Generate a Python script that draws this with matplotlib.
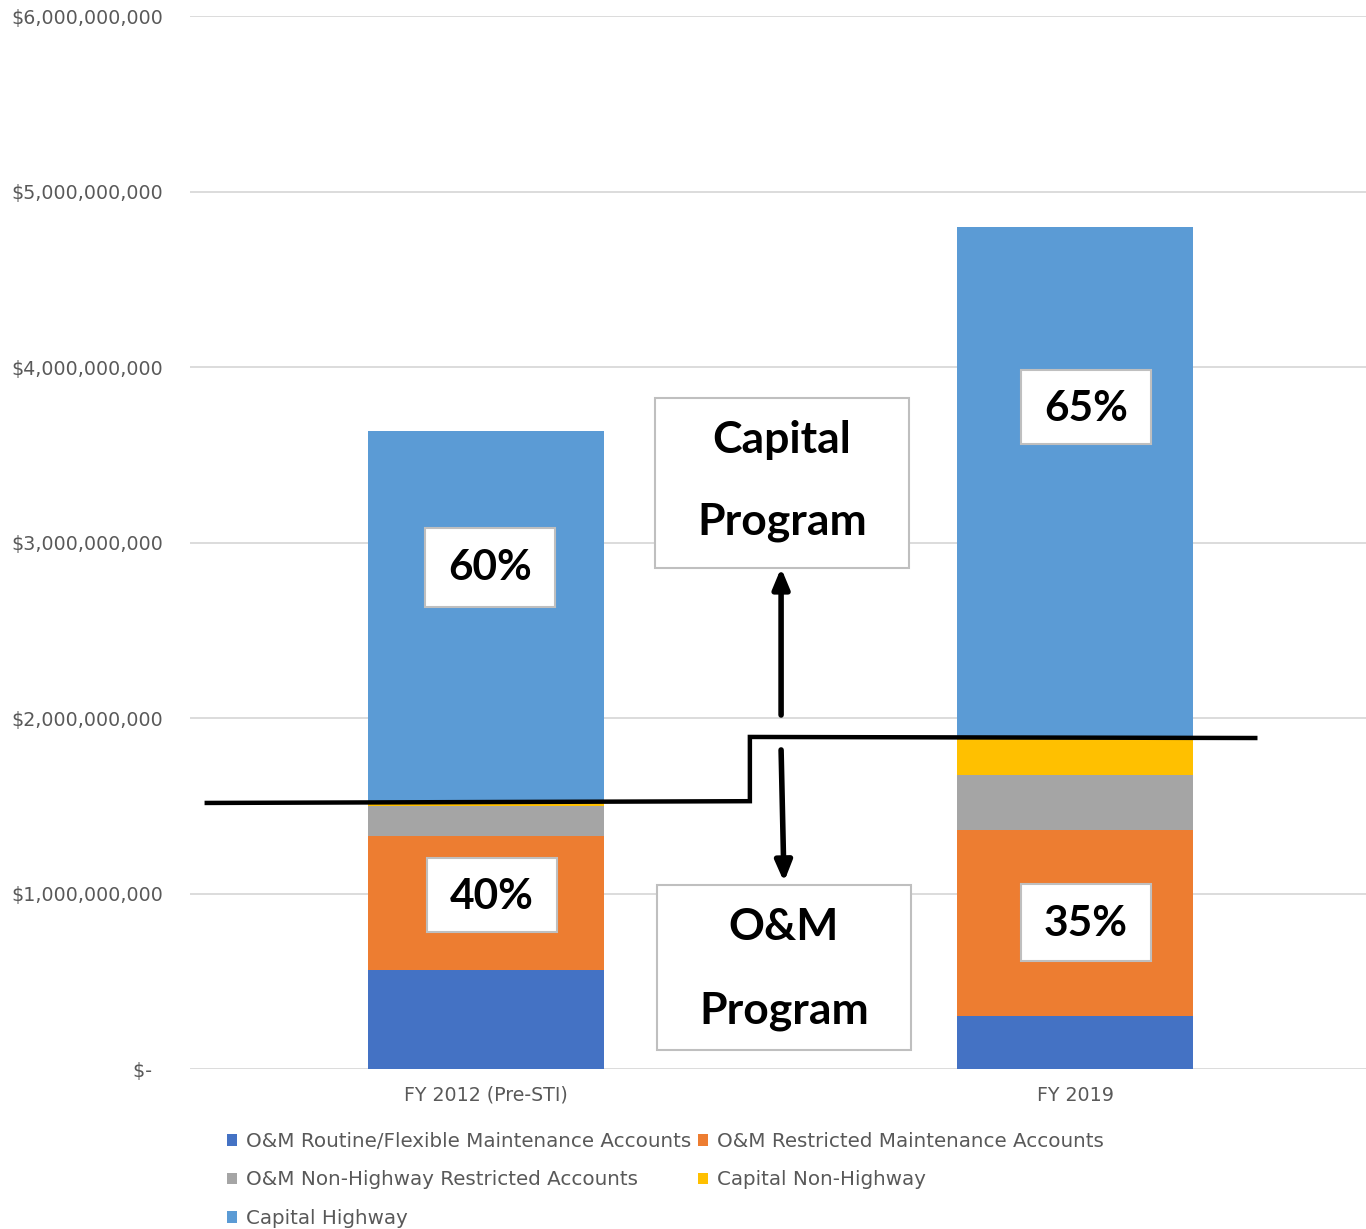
import matplotlib
matplotlib.use("Agg")
import matplotlib.pyplot as plt
from matplotlib.patches import Rectangle
import numpy as np

plt.rcParams['font.family'] = ['Lato', 'DejaVu Sans']

categories = ["FY 2012 (Pre-STI)", "FY 2019"]
series_names = ["O&M Routine/Flexible Maintenance Accounts",
                "O&M Restricted Maintenance Accounts",
                "O&M Non-Highway Restricted Accounts",
                "Capital Non-Highway",
                "Capital Highway"]
om_routine = [0.564e9, 0.302e9]
om_restricted = [0.764e9, 1.060e9]
om_nonhwy = [0.171e9, 0.313e9]
cap_nonhwy = [0.017e9, 0.217e9]
cap_hwy = [2.119e9, 2.906e9]
colors = ["#4472C4", "#ED7D31", "#A5A5A5", "#FFC000", "#5B9BD5"]
pct_labels_capital = ["60%", "65%"]
pct_labels_om = ["40%", "35%"]
yticks = [0, 1e9, 2e9, 3e9, 4e9, 5e9, 6e9]

fig = plt.figure(figsize=(13.66, 12.29), dpi=100)
ax = fig.add_axes([190/1366, 1-1069/1229, 1-190/1366, (1069-16)/1229])

x = np.arange(len(categories))
series = [om_routine, om_restricted, om_nonhwy, cap_nonhwy, cap_hwy]
bottom = np.zeros(len(categories))
handles = []
for vals, name, c in zip(series, series_names, colors):
    b = ax.bar(x, vals, 0.40, bottom=bottom, color=c, label=name, zorder=2)
    handles.append(b)
    bottom += np.array(vals)

tickfont = dict(family=['DejaVu Sans'], size=13.7)
ax.set_xlim(-0.5025, 1.494)
ax.set_ylim(0, 6e9)
ax.set_yticks(yticks)
ax.set_yticklabels(["$-  "] + ["${:,.0f}".format(v) for v in yticks[1:]], fontdict=tickfont)
ax.set_xticks(x)
ax.set_xticklabels(categories, fontdict=tickfont)
ax.tick_params(axis='both', length=0, colors='#595959')
ax.tick_params(axis='y', pad=19)
ax.tick_params(axis='x', pad=12)
for s in ax.spines.values():
    s.set_visible(False)
ax.grid(axis='y', color='#d9d9d9', linewidth=1.3, zorder=0)
ax.set_axisbelow(True)

B = 1e9
# boundary line between O&M and capital
om_total = np.array(om_routine) + np.array(om_restricted) + np.array(om_nonhwy) + np.array(cap_nonhwy)
ax.plot([-0.474, 0.448, 0.448, 1.306],
        [om_total[0], om_total[0] + 0.01*B, om_total[1], om_total[1] - 0.006*B],
        color='black', lw=3.2, zorder=4, solid_joinstyle='miter')

# arrows
ax.annotate("", xy=(0.501, 2.855*B), xytext=(0.501, 2.017*B),
            arrowprops=dict(arrowstyle='-|>,head_length=1.2,head_width=0.5', lw=4, color='black',
                            shrinkA=0, shrinkB=0), zorder=4)
ax.annotate("", xy=(0.506, 1.066*B), xytext=(0.501, 1.818*B),
            arrowprops=dict(arrowstyle='-|>,head_length=1.2,head_width=0.5', lw=4, color='black',
                            shrinkA=0, shrinkB=0), zorder=4)

def box(x0, x1, y0, y1):
    ax.add_patch(Rectangle((x0, y0*B), x1-x0, (y1-y0)*B, facecolor='white',
                           edgecolor='#bfbfbf', lw=1.5, zorder=5))

tk = dict(ha='center', va='center', fontsize=30.5, fontweight='bold', color='black', zorder=6)
tw = dict(tk, fontsize=32)
# percentage boxes
box(-0.1036, 0.1171, 2.632, 3.083); ax.text(0.0068, 2.855*B, pct_labels_capital[0], **tk)
box(-0.100, 0.1205, 0.781, 1.202); ax.text(0.009, 0.98*B, pct_labels_om[0], **tk)
box(0.908, 1.129, 3.561, 3.983); ax.text(1.0187, 3.761*B, pct_labels_capital[1], **tk)
box(0.908, 1.129, 0.615, 1.054); ax.text(1.0187, 0.826*B, pct_labels_om[1], **tk)
# program boxes
box(0.287, 0.718, 2.855, 3.823)
ax.text(0.5025, 3.584*B, "Capital", **tw)
ax.text(0.5025, 3.117*B, "Program", **tw)
box(0.290, 0.7216, 0.108, 1.048)
ax.text(0.506, 0.809*B, "O&M", **tw)
ax.text(0.506, 0.330*B, "Program", **tw)

order = [0, 2, 4, 1, 3]
leg = fig.legend([handles[i] for i in order], [series_names[i] for i in order],
                 ncol=2, loc='upper left', bbox_to_anchor=(227/1366, 1-1132/1229),
                 frameon=False, prop=dict(family=['DejaVu Sans'], size=14.3),
                 handlelength=0.5, handleheight=0.5,
                 handletextpad=0.45, columnspacing=0.35, labelspacing=0.98,
                 borderaxespad=0, borderpad=0)
for t in leg.get_texts():
    t.set_color('#595959')

fig.savefig("out.png", dpi=100)
